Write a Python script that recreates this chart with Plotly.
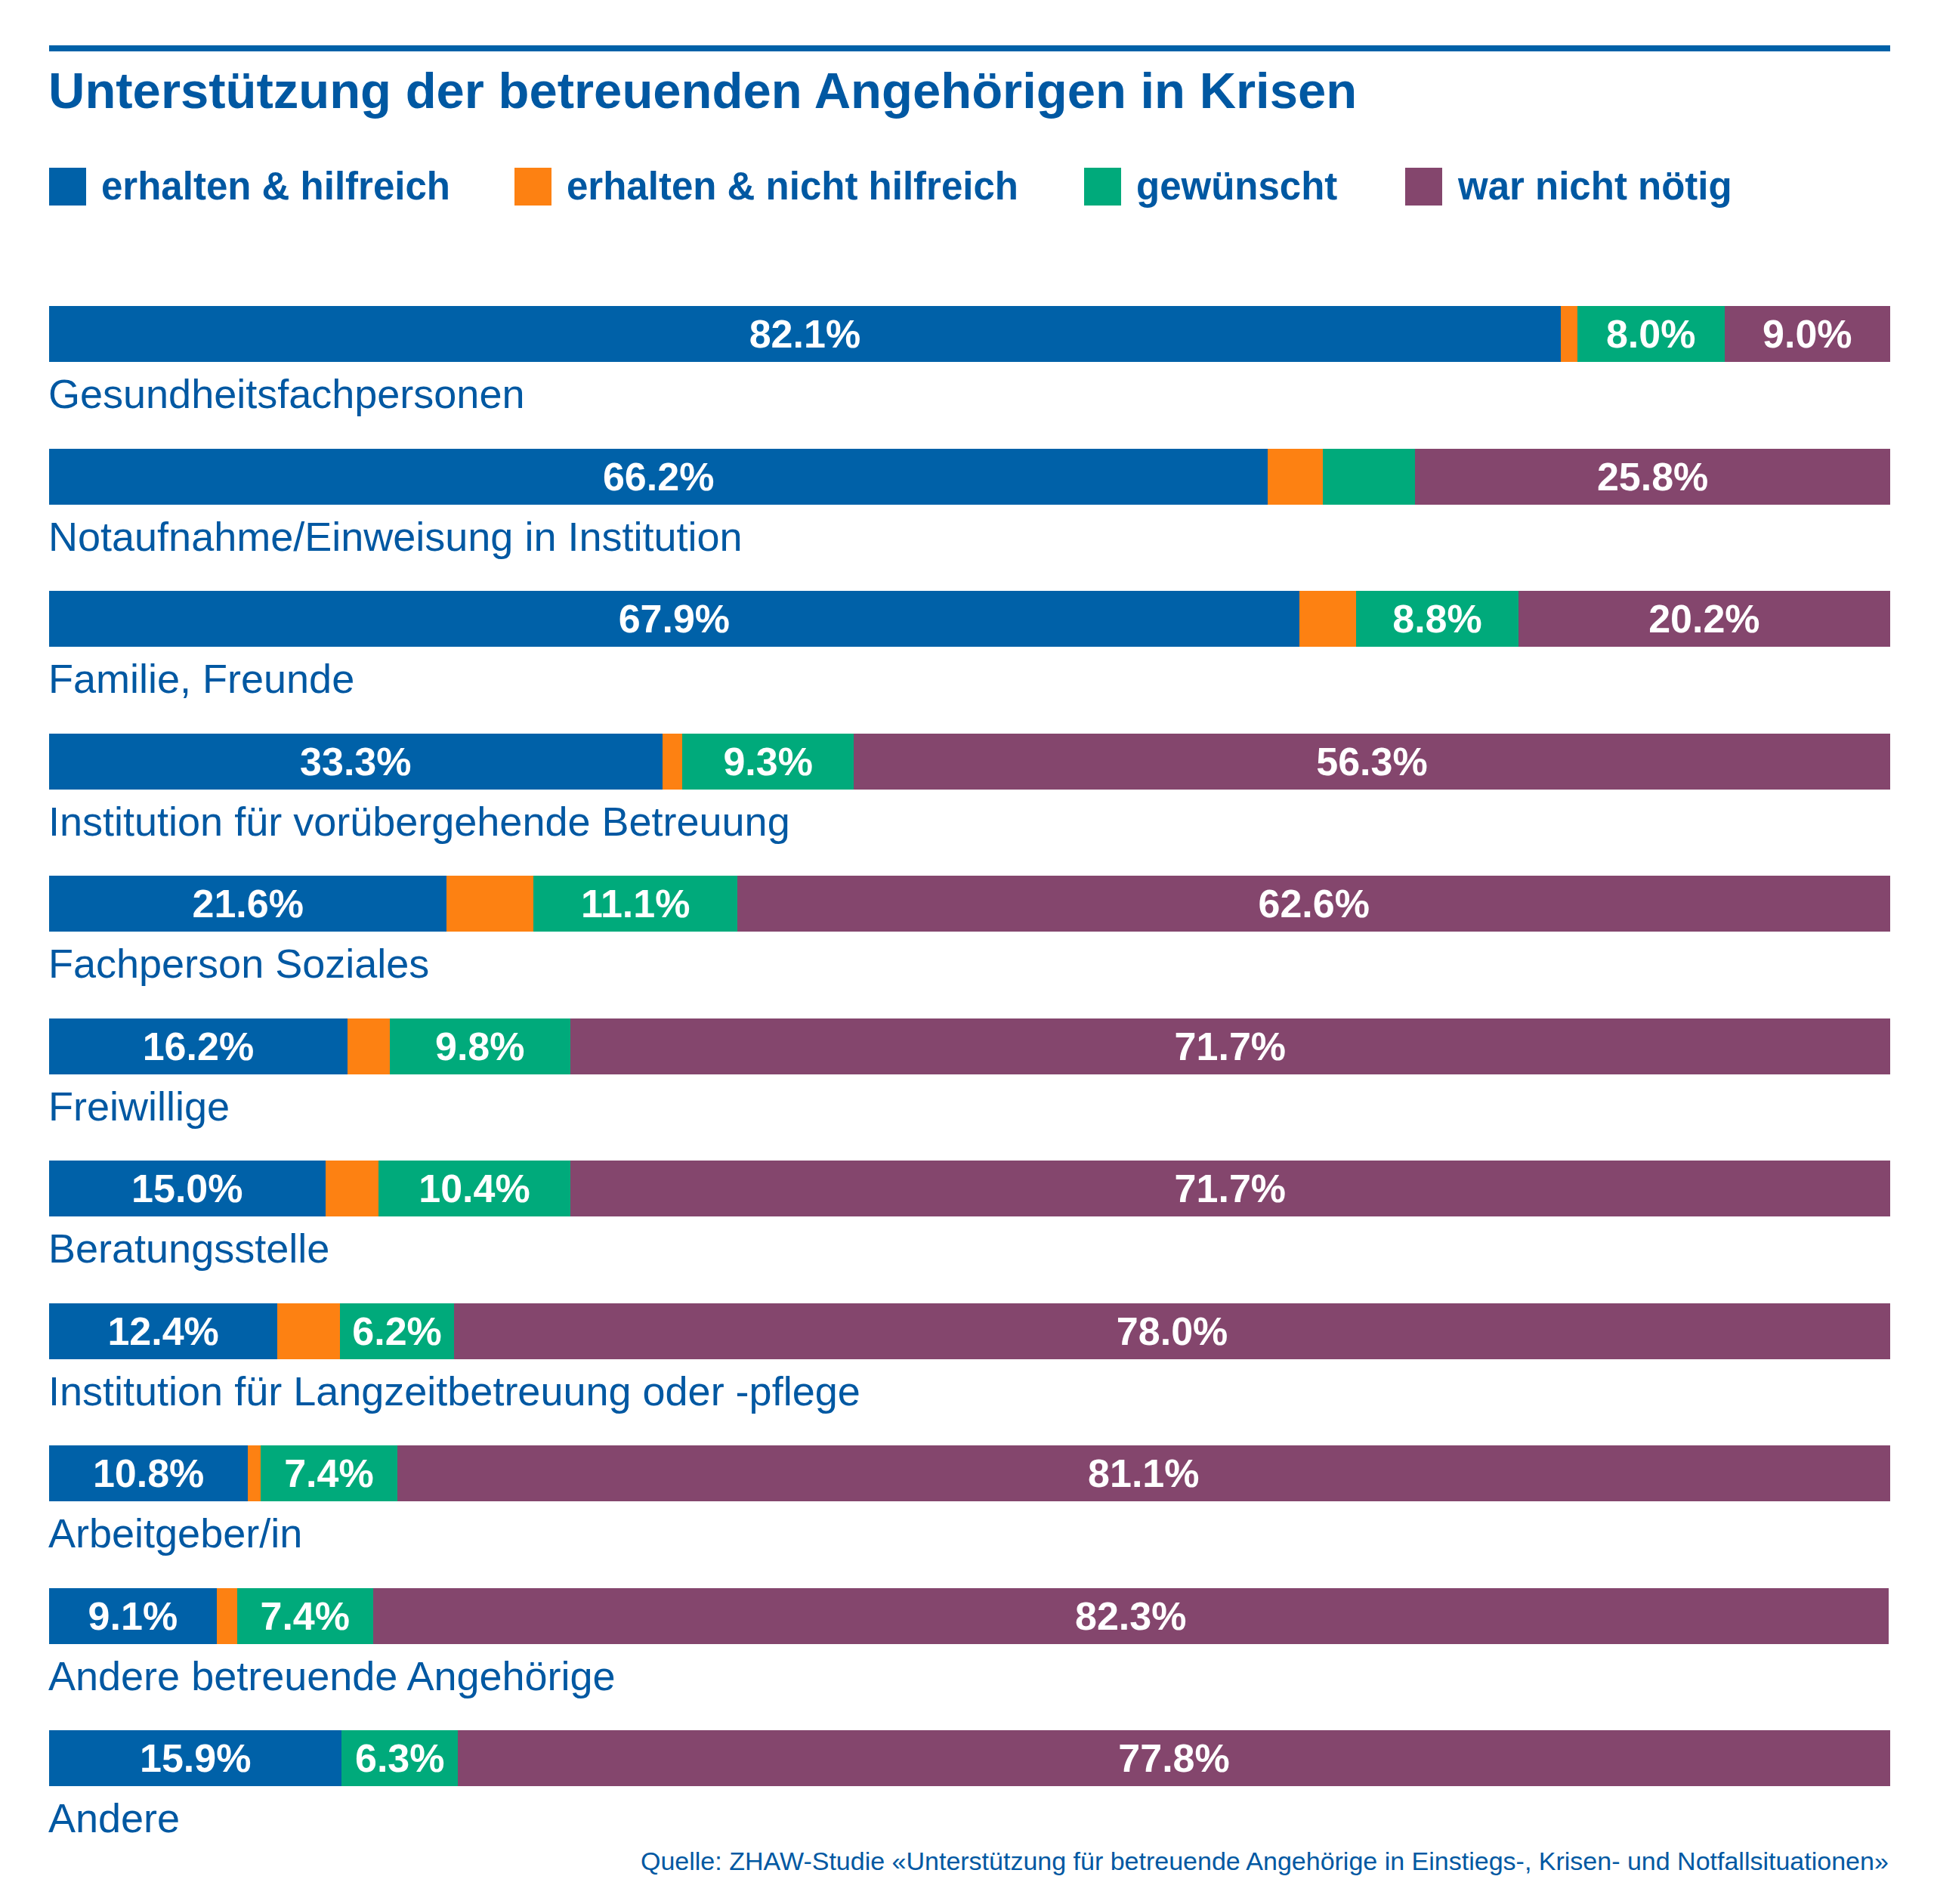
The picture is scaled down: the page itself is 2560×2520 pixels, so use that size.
import plotly.graph_objects as go

# ---------------- data ----------------
categories = [
    "Gesundheitsfachpersonen",
    "Notaufnahme/Einweisung in Institution",
    "Familie, Freunde",
    "Institution für vorübergehende Betreuung",
    "Fachperson Soziales",
    "Freiwillige",
    "Beratungsstelle",
    "Institution für Langzeitbetreuung oder -pflege",
    "Arbeitgeber/in",
    "Andere betreuende Angehörige",
    "Andere",
]
series_names = ["erhalten & hilfreich", "erhalten & nicht hilfreich", "gewünscht", "war nicht nötig"]
erhalten_hilfreich = [82.1, 66.2, 67.9, 33.3, 21.6, 16.2, 15.0, 12.4, 10.8, 9.1, 15.9]
erhalten_nicht_hilfreich = [0.9, 3.0, 3.1, 1.1, 4.7, 2.3, 2.9, 3.4, 0.7, 1.1, 0.0]
gewuenscht = [8.0, 5.0, 8.8, 9.3, 11.1, 9.8, 10.4, 6.2, 7.4, 7.4, 6.3]
nicht_noetig = [9.0, 25.8, 20.2, 56.3, 62.6, 71.7, 71.7, 78.0, 81.1, 82.3, 77.8]
series_values = [erhalten_hilfreich, erhalten_nicht_hilfreich, gewuenscht, nicht_noetig]

title_text = "Unterstützung der betreuenden Angehörigen in Krisen"
source_text = ("Quelle: ZHAW-Studie «Unterstützung für betreuende Angehörige in "
               "Einstiegs-, Krisen- und Notfallsituationen»")

# ---------------- style ----------------
colors = ["#0061a8", "#fd8112", "#00aa7b", "#84466d"]
text_blue = "#0058a2"
FONT = "Liberation Sans, Arial, Helvetica, sans-serif"

W, H = 2560, 2520
ML, MR, MT, MB = 65, 58, 348, 42
PW = W - ML - MR
PH = H - MT - MB


def px_x(p):
    return (p - ML) / PW


def px_y(p):
    return (H - MB - p) / PH


fig = go.Figure()
for name, vals, col in zip(series_names, series_values, colors):
    labels = [f"{v:.1f}%" if v >= 6 else "" for v in vals]
    fig.add_trace(go.Bar(
        y=categories, x=vals, name=name, orientation="h",
        marker=dict(color=col, line=dict(width=0)),
        text=labels, textposition="inside", insidetextanchor="middle",
        textangle=0, constraintext="none",
        insidetextfont=dict(family=FONT, size=52, color="white", weight="bold"),
        showlegend=False, hoverinfo="x+name",
    ))

annotations = []
# category labels under bars
for c in categories:
    annotations.append(dict(
        x=0, y=c, xref="x", yref="y", text=c, showarrow=False,
        xanchor="left", yanchor="middle", yshift=-79, xshift=-3,
        font=dict(family=FONT, size=54, color=text_blue),
    ))

# title
annotations.append(dict(
    x=px_x(62), y=px_y(120), xref="paper", yref="paper", text=title_text,
    showarrow=False, xanchor="left", yanchor="middle",
    font=dict(family=FONT, size=67, color=text_blue, weight="bold"),
))

# source
annotations.append(dict(
    x=1, y=px_y(2463), xref="paper", yref="paper", text=source_text,
    showarrow=False, xanchor="right", yanchor="middle",
    font=dict(family=FONT, size=34, color=text_blue),
))

shapes = [dict(
    type="line", xref="paper", yref="paper", x0=0, x1=1,
    y0=px_y(64), y1=px_y(64), line=dict(color="#0061a8", width=8),
)]

# custom legend
legend_sq_x = [65, 681, 1435, 1860]
for name, col, sx in zip(series_names, colors, legend_sq_x):
    shapes.append(dict(
        type="rect", xref="paper", yref="paper",
        x0=px_x(sx), x1=px_x(sx + 49), y0=px_y(272), y1=px_y(222),
        fillcolor=col, line=dict(width=0),
    ))
    annotations.append(dict(
        x=px_x(sx + 67), y=px_y(247), xref="paper", yref="paper", text=name,
        showarrow=False, xanchor="left", yanchor="middle",
        font=dict(family=FONT, size=51, color=text_blue, weight="bold"),
    ))

fig.update_layout(
    width=W, height=H, autosize=False,
    margin=dict(l=ML, r=MR, t=MT, b=MB, pad=0),
    paper_bgcolor="white", plot_bgcolor="white",
    barmode="stack", bargap=0.607,
    xaxis=dict(range=[0, 100], visible=False, showgrid=False, zeroline=False, fixedrange=True),
    yaxis=dict(categoryorder="array", categoryarray=categories,
               range=[10.8, -0.5], visible=False, showgrid=False, zeroline=False, fixedrange=True),
    annotations=annotations, shapes=shapes,
    showlegend=False,
    font=dict(family=FONT, color=text_blue),
)

fig.write_html("out.html", config={"displayModeBar": False},
               post_script="document.body.style.margin='0';")
